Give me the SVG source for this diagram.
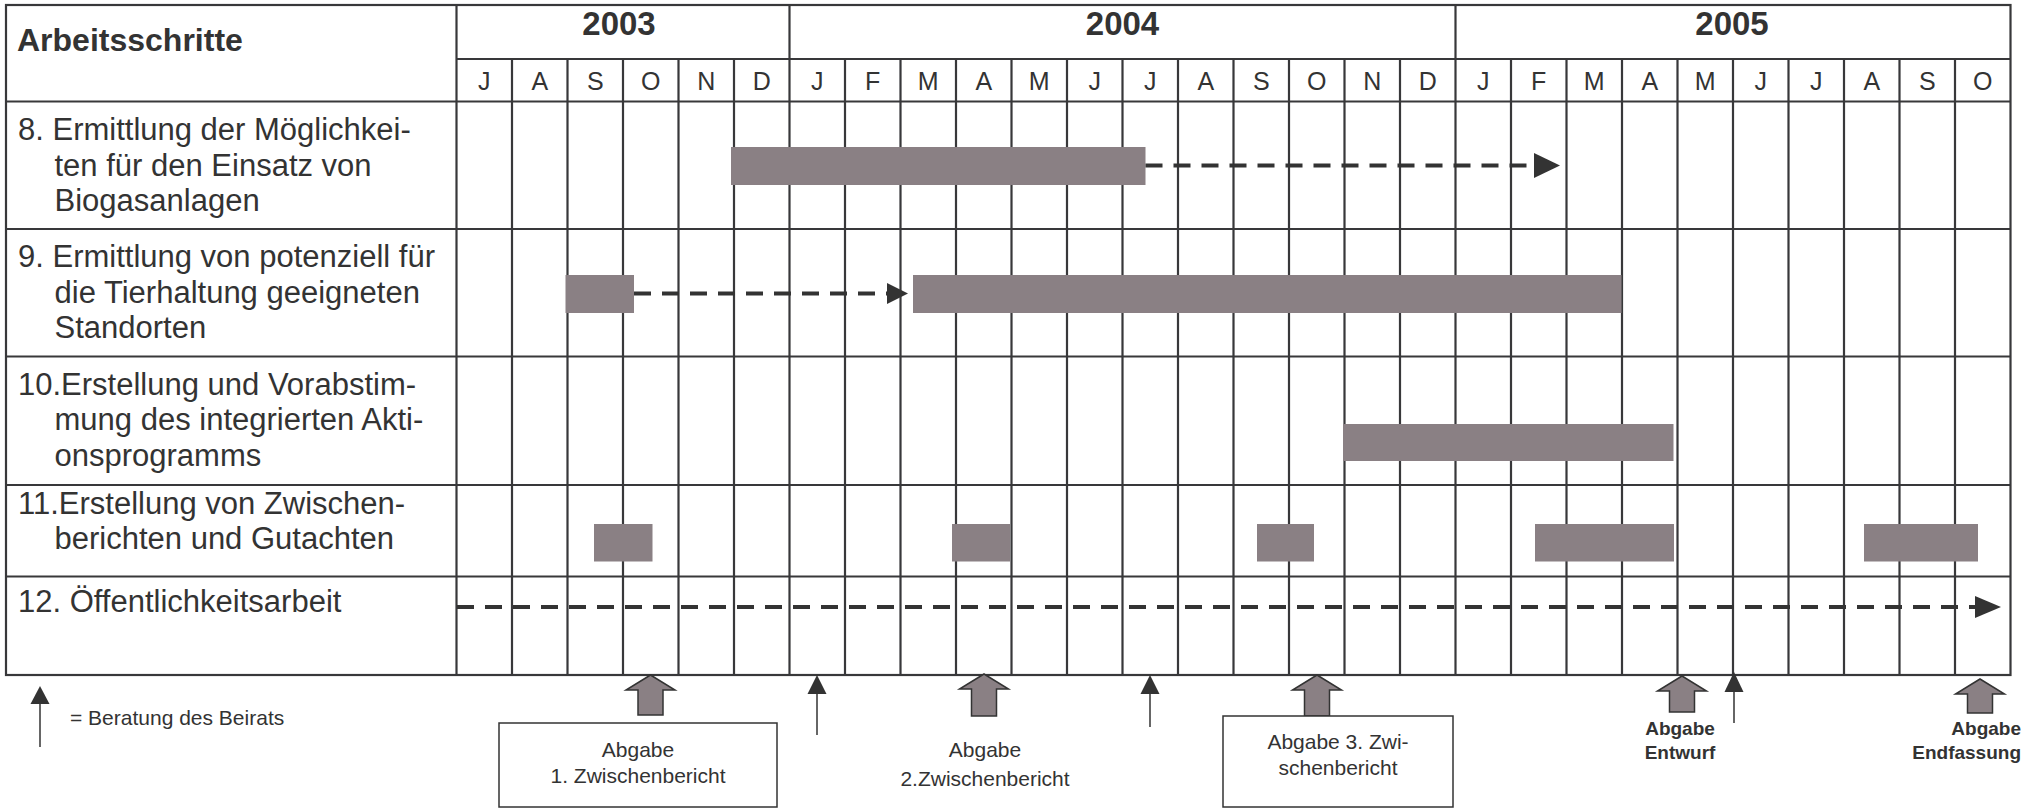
<svg xmlns="http://www.w3.org/2000/svg" width="2040" height="808" viewBox="0 0 2040 808">
<defs>
<style>
.ln{stroke:#38383a;stroke-width:2.2;fill:none}
.bar{fill:#8a8084}
.dash{stroke:#333;stroke-width:4;stroke-dasharray:17 11;fill:none}
.t{font-family:"Liberation Sans",Arial,sans-serif;fill:#333}
.lbl{font-size:31px}
.mon{font-size:25px;text-anchor:middle}
.yr{font-size:33px;font-weight:bold;text-anchor:middle}
.sm{font-size:21px}
.smb{font-size:19px;font-weight:bold}
.blk{fill:#8a8084;stroke:#333;stroke-width:1.5}
.thin{stroke:#333;stroke-width:1.5}
</style>
</defs>
<rect width="2040" height="808" fill="#fff"/>

<g id="table">
<rect class="ln" x="6" y="5" width="2004.5" height="670"/>
<line class="ln" x1="456.5" y1="5" x2="456.5" y2="675"/>
<line class="ln" x1="456.5" y1="59" x2="2010.5" y2="59"/>
<line class="ln" x1="6" y1="101.5" x2="2010.5" y2="101.5"/>
<line class="ln" x1="6" y1="229" x2="2010.5" y2="229"/>
<line class="ln" x1="6" y1="356.5" x2="2010.5" y2="356.5"/>
<line class="ln" x1="6" y1="485" x2="2010.5" y2="485"/>
<line class="ln" x1="6" y1="576.5" x2="2010.5" y2="576.5"/>
<line class="ln" x1="789.5" y1="5" x2="789.5" y2="675"/>
<line class="ln" x1="1455.5" y1="5" x2="1455.5" y2="675"/>
<path class="ln" d="M512,59V675M567.5,59V675M623,59V675M678.5,59V675M734,59V675M845,59V675M900.5,59V675M956,59V675M1011.5,59V675M1067,59V675M1122.5,59V675M1178,59V675M1233.5,59V675M1289,59V675M1344.5,59V675M1400,59V675M1511,59V675M1566.5,59V675M1622,59V675M1677.5,59V675M1733,59V675M1788.5,59V675M1844,59V675M1899.5,59V675M1955,59V675"/>
</g>

<g id="header">
<text class="t" x="17" y="51" font-size="32" font-weight="bold">Arbeitsschritte</text>
<text class="t yr" x="619" y="35">2003</text>
<text class="t yr" x="1122.5" y="35">2004</text>
<text class="t yr" x="1732" y="35">2005</text>
<g class="t mon">
<text x="484.25" y="89.5">J</text><text x="539.75" y="89.5">A</text><text x="595.25" y="89.5">S</text><text x="650.75" y="89.5">O</text><text x="706.25" y="89.5">N</text><text x="761.75" y="89.5">D</text>
<text x="817.25" y="89.5">J</text><text x="872.75" y="89.5">F</text><text x="928.25" y="89.5">M</text><text x="983.75" y="89.5">A</text><text x="1039.25" y="89.5">M</text><text x="1094.75" y="89.5">J</text><text x="1150.25" y="89.5">J</text><text x="1205.75" y="89.5">A</text><text x="1261.25" y="89.5">S</text><text x="1316.75" y="89.5">O</text><text x="1372.25" y="89.5">N</text><text x="1427.75" y="89.5">D</text>
<text x="1483.25" y="89.5">J</text><text x="1538.75" y="89.5">F</text><text x="1594.25" y="89.5">M</text><text x="1649.75" y="89.5">A</text><text x="1705.25" y="89.5">M</text><text x="1760.75" y="89.5">J</text><text x="1816.25" y="89.5">J</text><text x="1871.75" y="89.5">A</text><text x="1927.25" y="89.5">S</text><text x="1982.75" y="89.5">O</text>
</g>
</g>

<g id="step8">
<text class="t lbl" x="18" y="140">8. Ermittlung der Möglichkei-</text>
<text class="t lbl" x="54.5" y="175.5">ten für den Einsatz von</text>
<text class="t lbl" x="54.5" y="211">Biogasanlagen</text>
<rect class="bar" x="731" y="147" width="414.5" height="38"/>
</g>
<g id="step9">
<text class="t lbl" x="18" y="267">9. Ermittlung von potenziell für</text>
<text class="t lbl" x="54.5" y="302.5">die Tierhaltung geeigneten</text>
<text class="t lbl" x="54.5" y="338">Standorten</text>
<rect class="bar" x="565.5" y="275" width="68.5" height="38"/>
<rect class="bar" x="913" y="275" width="708.5" height="38"/>
</g>
<g id="step10">
<text class="t lbl" x="18" y="394.5">10.Erstellung und Vorabstim-</text>
<text class="t lbl" x="54.5" y="430">mung des integrierten Akti-</text>
<text class="t lbl" x="54.5" y="465.5">onsprogramms</text>
<rect class="bar" x="1343" y="424" width="330.5" height="37"/>
</g>
<g id="step11">
<text class="t lbl" x="18" y="513.5">11.Erstellung von Zwischen-</text>
<text class="t lbl" x="54.5" y="549">berichten und Gutachten</text>
<rect class="bar" x="594" y="524" width="58.5" height="37.5"/>
<rect class="bar" x="952" y="524" width="58" height="37.5"/>
<rect class="bar" x="1257" y="524" width="57" height="37.5"/>
<rect class="bar" x="1535" y="524" width="139" height="37.5"/>
<rect class="bar" x="1864" y="524" width="114" height="37.5"/>
</g>
<g id="step12">
<text class="t lbl" x="18" y="612">12. Öffentlichkeitsarbeit</text>
</g>

<g id="connectors">
<line class="dash" x1="1145.5" y1="165.5" x2="1534" y2="165.5"/>
<path d="M1534,153 L1560,165.5 L1534,178 Z" fill="#333"/>
<line class="dash" x1="634" y1="293.5" x2="888" y2="293.5"/>
<path d="M887,283 L908,293.5 L887,304 Z" fill="#333"/>
<line class="dash" x1="457" y1="607" x2="1976" y2="607"/>
<path d="M1975,596 L2001,607 L1975,618 Z" fill="#333"/>
</g>

<g id="legend">
<line class="thin" x1="40" y1="747" x2="40" y2="703"/>
<path d="M30.5,704 L40,686 L49.5,704 Z" fill="#333"/>
<text class="t sm" x="70" y="725">= Beratung des Beirats</text>
</g>

<g id="beirat-arrows">
<line class="thin" x1="817" y1="735" x2="817" y2="692"/>
<path d="M807.5,694 L817,675 L826.5,694 Z" fill="#333"/>
<line class="thin" x1="1150" y1="727" x2="1150" y2="692"/>
<path d="M1140.5,694 L1150,675 L1159.5,694 Z" fill="#333"/>
<line class="thin" x1="1734" y1="723" x2="1734" y2="690"/>
<path d="M1724.5,692 L1734,672 L1743.5,692 Z" fill="#333"/>
</g>

<g id="abgabe1">
<path class="blk" d="M650.5,675 L675,690 L663,690 L663,715 L638,715 L638,690 L626,690 Z"/>
<rect x="499" y="723" width="278" height="84" fill="#fff" stroke="#333" stroke-width="1.5"/>
<text class="t sm" x="638" y="757" text-anchor="middle">Abgabe</text>
<text class="t sm" x="638" y="783" text-anchor="middle">1. Zwischenbericht</text>
</g>
<g id="abgabe2">
<path class="blk" d="M984,674 L1008.5,689 L996.5,689 L996.5,716 L971.5,716 L971.5,689 L959.5,689 Z"/>
<text class="t sm" x="985" y="757" text-anchor="middle">Abgabe</text>
<text class="t sm" x="985" y="786" text-anchor="middle">2.Zwischenbericht</text>
</g>
<g id="abgabe3">
<path class="blk" d="M1317,675 L1341.5,690 L1329.5,690 L1329.5,716 L1304.5,716 L1304.5,690 L1292.5,690 Z"/>
<rect x="1223" y="716" width="230" height="91" fill="#fff" stroke="#333" stroke-width="1.5"/>
<text class="t sm" x="1338" y="749" text-anchor="middle">Abgabe 3. Zwi-</text>
<text class="t sm" x="1338" y="775" text-anchor="middle">schenbericht</text>
</g>
<g id="entwurf">
<path class="blk" d="M1682,676 L1706.5,691 L1694.5,691 L1694.5,712 L1669.5,712 L1669.5,691 L1657.5,691 Z"/>
<text class="t smb" x="1680" y="735" text-anchor="middle">Abgabe</text>
<text class="t smb" x="1680" y="759" text-anchor="middle">Entwurf</text>
</g>
<g id="endfassung">
<path class="blk" d="M1980,679 L2004.5,694 L1992.5,694 L1992.5,713 L1967.5,713 L1967.5,694 L1955.5,694 Z"/>
<text class="t smb" x="2021" y="735" text-anchor="end">Abgabe</text>
<text class="t smb" x="2021" y="759" text-anchor="end">Endfassung</text>
</g>
</svg>
